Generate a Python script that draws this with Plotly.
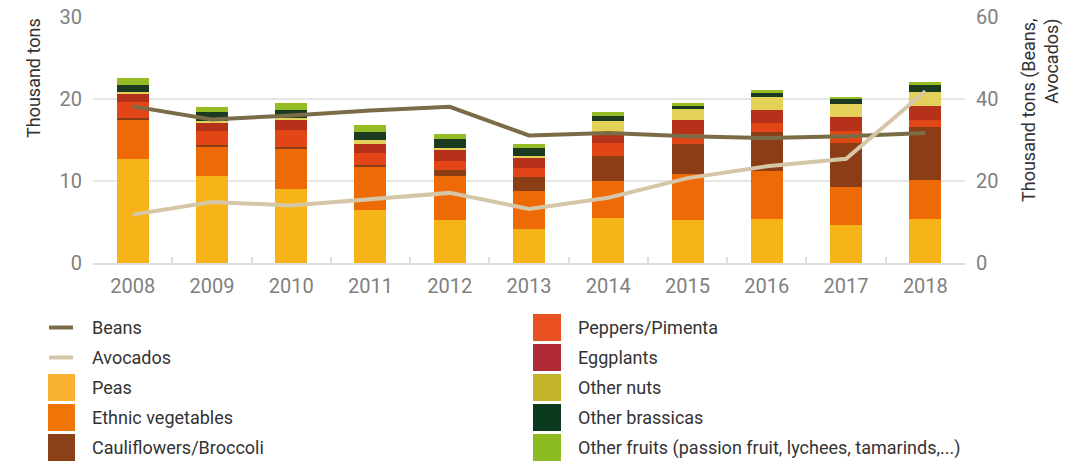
import plotly.graph_objects as go

years = ["2008", "2009", "2010", "2011", "2012", "2013", "2014", "2015", "2016", "2017", "2018"]

peas = [12.7, 10.55, 9.0, 6.5, 5.28, 4.18, 5.52, 5.28, 5.4, 4.67, 5.4]
ethnic_vegetables = [4.85, 3.7, 5.0, 5.24, 5.37, 4.64, 4.52, 5.61, 5.86, 4.63, 4.76]
cauliflowers_broccoli = [0.12, 0.12, 0.2, 0.25, 0.73, 1.7, 3.05, 3.66, 4.75, 5.37, 6.46]
peppers_pimenta = [2.0, 1.7, 2.08, 1.46, 1.1, 1.1, 1.58, 1.22, 1.1, 1.46, 0.86]
eggplants = [1.0, 1.1, 1.22, 1.1, 1.34, 1.22, 1.34, 1.71, 1.59, 1.71, 1.7]
other_nuts = [0.2, 0.2, 0.2, 0.49, 0.24, 0.25, 1.34, 1.34, 1.58, 1.59, 1.71]
other_brassicas = [0.85, 1.1, 1.02, 0.97, 1.1, 0.97, 0.61, 0.36, 0.49, 0.61, 0.85]
other_fruits = [0.9, 0.6, 0.85, 0.86, 0.61, 0.49, 0.49, 0.37, 0.36, 0.24, 0.37]

beans = [38.2, 35.0, 36.0, 37.2, 38.1, 31.1, 31.7, 30.9, 30.5, 30.9, 31.7]
avocados = [11.8, 14.9, 14.0, 15.5, 17.1, 13.2, 15.9, 20.7, 23.6, 25.4, 41.9]

bar_names = ["Peas", "Ethnic vegetables", "Cauliflowers/Broccoli", "Peppers/Pimenta",
             "Eggplants", "Other nuts", "Other brassicas",
             "Other fruits (passion fruit, lychees, tamarinds,...)"]
bar_values = [peas, ethnic_vegetables, cauliflowers_broccoli, peppers_pimenta,
              eggplants, other_nuts, other_brassicas, other_fruits]
bar_colors = ["#f6b418", "#ee6a07", "#8b3d16", "#e34616", "#b5311a", "#e2d25a", "#1c3a20", "#95bc24"]
legend_colors = ["#f8b131", "#f07507", "#8b4117", "#ea5121", "#b02a37", "#c3b52b", "#0b3a1f", "#8dbb22"]

line_names = ["Beans", "Avocados"]
line_values = [beans, avocados]
line_colors = ["#7b6c48", "#d6c6a8"]

FONT = "Roboto"
W, H = 1077, 464
L, R, T, B = 93, 965, 17, 263


def px(x):
    return (x - L) / (R - L)


def py(y):
    return (B - y) / (B - T)


fig = go.Figure()
for name, vals, col in zip(bar_names, bar_values, bar_colors):
    fig.add_trace(go.Bar(x=years, y=vals, name=name, marker_color=col,
                         marker_line_width=0, showlegend=False))
for name, vals, col in zip(line_names, line_values, line_colors):
    fig.add_trace(go.Scatter(x=years, y=vals, name=name, yaxis="y2", mode="lines",
                             line=dict(color=col, width=4), showlegend=False))

fig.update_layout(
    width=W, height=H,
    margin=dict(l=L, r=W - R, t=T, b=H - B, pad=0, autoexpand=False),
    barmode="stack", bargap=0.596,
    plot_bgcolor="white", paper_bgcolor="white",
    font=dict(family=FONT, color="#333333"),
    xaxis=dict(type="category", showline=True, linecolor="#dddddd", linewidth=2,
               ticks="inside", tickson="boundaries", ticklen=6, tickcolor="#dddddd", tickwidth=2,
               tickfont=dict(size=20, color="#808080", family=FONT), showgrid=False,
               ticklabelstandoff=4, automargin=False),
    yaxis=dict(range=[0, 30], dtick=10, showgrid=True, gridcolor="#e6e6e6", gridwidth=2,
               zeroline=False, showline=False, ticks="", automargin=False,
               tickfont=dict(size=20, color="#808080", family=FONT), ticklabelstandoff=10),
    yaxis2=dict(range=[0, 60], dtick=20, overlaying="y", side="right", showgrid=False,
                zeroline=False, showline=False, ticks="", automargin=False,
                tickfont=dict(size=20, color="#808080", family=FONT), ticklabelstandoff=10),
)

annotations = []
shapes = []
# axis titles
annotations.append(dict(text="Thousand tons", textangle=-90, xref="paper", yref="paper",
                        x=px(33), y=py(17), xanchor="center", yanchor="top", showarrow=False,
                        borderpad=0, font=dict(size=18, color="#333333", family=FONT)))
annotations.append(dict(text="Thousand tons (Beans,<br>Avocados)", textangle=-90, align="right",
                        xref="paper", yref="paper", x=px(1040), y=py(17), xanchor="center",
                        yanchor="top", showarrow=False, borderpad=0,
                        font=dict(size=18, color="#333333", family=FONT)))

# legend (manual, two columns)
entries = [("line", n, c) for n, c in zip(line_names, line_colors)] + \
          [("box", n, c) for n, c in zip(bar_names, legend_colors)]
for i, (kind, name, col) in enumerate(entries):
    colidx = i // 5
    row = i % 5
    cy = 327.5 + 30 * row
    sx0, sx1, tx = (48, 75, 91) if colidx == 0 else (533, 561, 577)
    if kind == "line":
        shapes.append(dict(type="line", xref="paper", yref="paper",
                           x0=px(sx0 + 1), x1=px(sx1 - 2), y0=py(cy), y1=py(cy),
                           line=dict(color=col, width=4)))
    else:
        shapes.append(dict(type="rect", xref="paper", yref="paper",
                           x0=px(sx0), x1=px(sx1), y0=py(cy - 13.5), y1=py(cy + 13.5),
                           fillcolor=col, line=dict(width=0)))
    annotations.append(dict(text=name, xref="paper", yref="paper", x=px(tx), y=py(cy),
                            xanchor="left", yanchor="middle", showarrow=False, borderpad=0,
                            font=dict(size=18, color="#333333", family=FONT)))

fig.update_layout(annotations=annotations, shapes=shapes)
fig.write_html("out.html", config={"displayModeBar": False},
               post_script="document.body.style.margin='0px';")
